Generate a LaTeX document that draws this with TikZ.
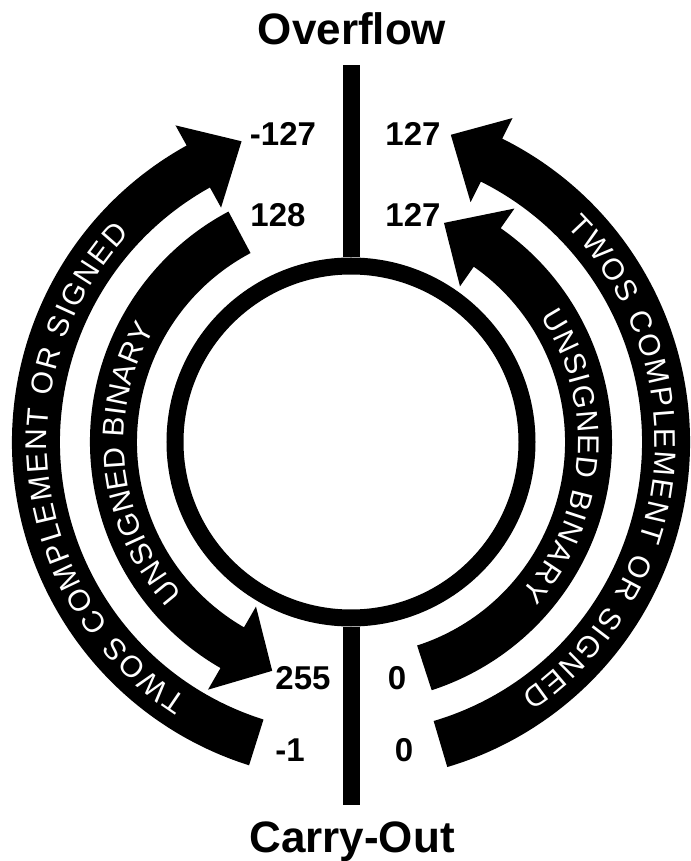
\documentclass[tikz,border=0pt]{standalone}
\usepackage{fontspec}
\setmainfont{Liberation Sans}
\usetikzlibrary{decorations.text}

\newcommand{\bandsize}{\fontsize{30}{30}\selectfont}

\tikzset{
  title/.style={font=\fontsize{44}{44}\selectfont\bfseries, inner sep=0pt},
  numlabel/.style={font=\fontsize{33}{33}\selectfont\bfseries, inner sep=0pt},
  band/.style={fill=black},
  stem/.style={line width=17pt},
  ring/.style={circle, draw, line width=17pt, minimum size=352pt, inner sep=0pt},
  bandtext/.style={decorate, decoration={text along path, text color=white, text align={fit to path}}}
}

\begin{document}
\begin{tikzpicture}[x=1pt,y=1pt]
\useasboundingbox (-351,-419) rectangle (339,442);

% centre ring and the two stems
\node[ring] (ring) at (0,0) {};
\node[title, anchor=base] (overflow) at (1,397) {Overflow};
\node[title, anchor=base] (carryout) at (1,-410) {Carry-Out};
\coordinate (ovtop) at (0,377);
\coordinate (cobot) at (0,-363);
\draw[stem] (ring.north) -- (ovtop);
\draw[stem] (ring.south) -- (cobot);

% left outer band, up to -127
\fill[band] (252.5:291pt) arc[start angle=252.5, end angle=119, radius=291pt]
  -- (119:268pt) -- (110:320pt) -- (119:362pt) -- (119:339pt)
  arc[start angle=119, end angle=252.5, radius=339pt] -- cycle;
% left inner band, down to 255
\fill[band] (118:214pt) arc[start angle=118, end angle=240, radius=214pt]
  -- (240:190pt) -- (251:242pt) -- (240:286pt) -- (240:261pt)
  arc[start angle=240, end angle=118, radius=261pt] -- cycle;
% right outer band, up to 127
\fill[band] (-73.5:291pt) arc[start angle=-73.5, end angle=63.5, radius=291pt]
  -- (63.5:268pt) -- (72:323pt) -- (63.5:362pt) -- (63.5:339pt)
  arc[start angle=63.5, end angle=-73.5, radius=339pt] -- cycle;
% right inner band, up to 127
\fill[band] (-72:214pt) arc[start angle=-72, end angle=55, radius=214pt]
  -- (55:190pt) -- (67:238pt) -- (55:285pt) -- (55:261pt)
  arc[start angle=55, end angle=-72, radius=261pt] -- cycle;

% band texts
\path[bandtext, decoration={text={|\bandsize|TWOS COMPLEMENT OR SIGNED}}]
  (237.5:304pt) arc[start angle=237.5, end angle=136.7, radius=304pt];
\path[bandtext, decoration={text={|\bandsize|UNSIGNED BINARY}}]
  (222:227pt) arc[start angle=222, end angle=150, radius=227pt];
\path[bandtext, decoration={text={|\bandsize|TWOS COMPLEMENT OR SIGNED}}]
  (45:304pt) arc[start angle=45, end angle=-56, radius=304pt];
\path[bandtext, decoration={text={|\bandsize|UNSIGNED BINARY}}]
  (33.4:227pt) arc[start angle=33.4, end angle=-41.6, radius=227pt];

% end values
\node[numlabel] (sneg) at (-68,308) {-127};
\node[numlabel] (umax) at (-73,227) {128};
\node[numlabel] (spos) at (62,308) {127};
\node[numlabel] (upos) at (62,227) {127};
\node[numlabel] (utop) at (-48,-236) {255};
\node[numlabel] (uzero) at (46,-236) {0};
\node[numlabel] (sone) at (-61,-308) {-1};
\node[numlabel] (szero) at (53,-308) {0};
\end{tikzpicture}
\end{document}
